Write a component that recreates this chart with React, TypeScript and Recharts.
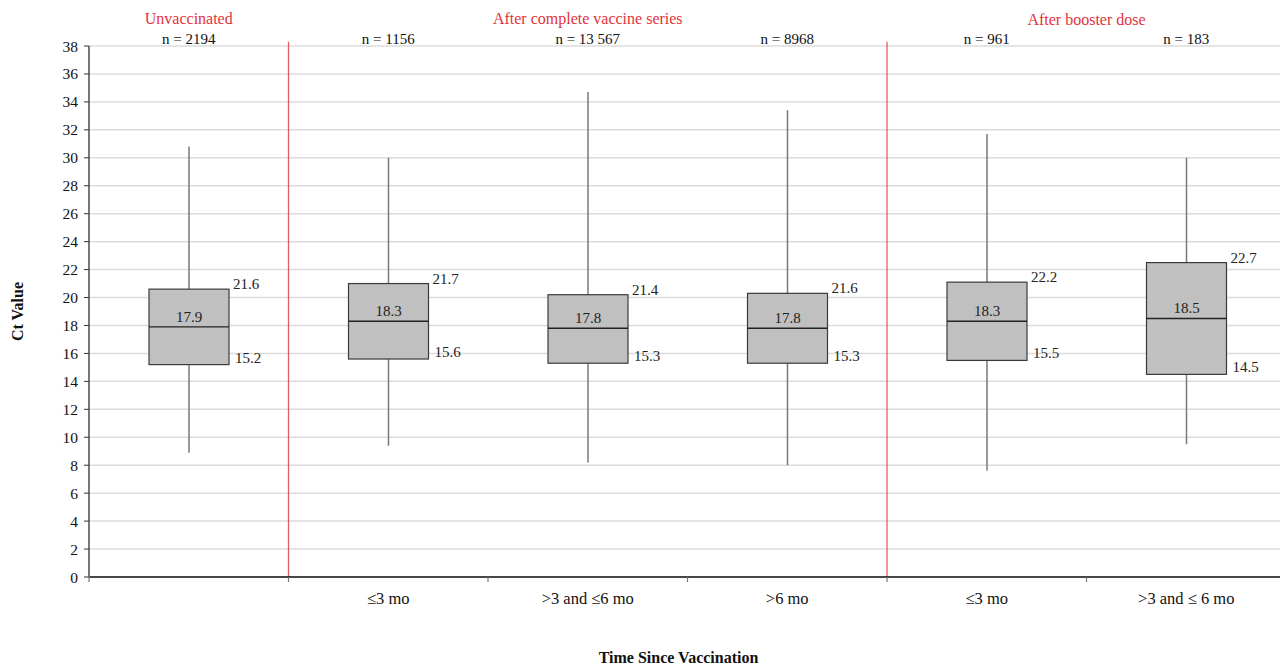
import { ComposedChart, Bar, XAxis, YAxis, CartesianGrid, ReferenceLine, Label } from "recharts";

const categories = ["", "≤3 mo", ">3 and ≤6 mo", ">6 mo", "≤3 mo", ">3 and ≤ 6 mo"];
const nLabels = ["n = 2194", "n = 1156", "n = 13 567", "n = 8968", "n = 961", "n = 183"];
const whiskerLow = [8.9, 9.4, 8.2, 8.0, 7.6, 9.5];
const whiskerHigh = [30.8, 30.0, 34.7, 33.4, 31.7, 30.0];
const boxLow = [15.2, 15.6, 15.3, 15.3, 15.5, 14.5];
const boxMid = [17.9, 18.3, 17.8, 17.8, 18.3, 18.5];
const boxHigh = [20.6, 21.0, 20.2, 20.3, 21.1, 22.5];
const q3Labels = ["21.6", "21.7", "21.4", "21.6", "22.2", "22.7"];

const groups = ["Unvaccinated", "After complete vaccine series", "After booster dose"];
const groupAt = [0.5, 2.5, 5];
const separators = [1, 4];

const yTicks = [0, 2, 4, 6, 8, 10, 12, 14, 16, 18, 20, 22, 24, 26, 28, 30, 32, 34, 36, 38];
const slotTicks = [0, 0.5, 1, 1.5, 2, 2.5, 3, 3.5, 4, 4.5, 5, 5.5];

const data = categories.map((c, i) => ({
  cat: c,
  pos: i + 0.5,
  n: nLabels[i],
  range: [whiskerLow[i], whiskerHigh[i]],
  lo: whiskerLow[i],
  hi: whiskerHigh[i],
  q1: boxLow[i],
  med: boxMid[i],
  q3: boxHigh[i],
  q3Label: q3Labels[i],
}));

const RED = "#e2333b";
const FONT = "'Liberation Serif', 'Times New Roman', serif";

function BoxShape(props: any) {
  const { x, y, width, height, payload } = props;
  const top = Math.min(y, y + height);
  const h = Math.abs(height);
  const { lo, hi, q1, med, q3, q3Label } = payload;
  const py = (v: number) => top + (h * (hi - v)) / (hi - lo);
  const cx = x + width / 2;
  const right = x + width;
  return (
    <g>
      <line x1={cx} x2={cx} y1={py(hi)} y2={py(lo)} stroke="#7a7a7a" strokeWidth={1.5} />
      <rect x={x} y={py(q3)} width={width} height={py(q1) - py(q3)} fill="#c0c0c0" stroke="#3a3a3a" strokeWidth={1.2} />
      <line x1={x} x2={right} y1={py(med)} y2={py(med)} stroke="#222" strokeWidth={1.4} />
      <text x={cx} y={py(med) - 5} textAnchor="middle" fontSize={15} fill="#222">{med.toFixed(1)}</text>
      <text x={right + 4} y={py(q3)} fontSize={15} fill="#222">{q3Label}</text>
      <text x={right + 6} y={py(q1) - 2} fontSize={15} fill="#222">{q1.toFixed(1)}</text>
    </g>
  );
}

function SlotTick(props: any) {
  const { x, y, payload } = props;
  const v = payload.value;
  if (Number.isInteger(v)) {
    return <line x1={x} x2={x} y1={y} y2={y + 5} stroke="#777" strokeWidth={1.2} />;
  }
  return (
    <text x={x} y={y + 27} textAnchor="middle" fontSize={16.5} fill="#111">
      {categories[Math.floor(v)]}
    </text>
  );
}

// the n-axis is stacked above the group axis, so both tick texts are swapped into place
function NTick(props: any) {
  const { x, y, payload } = props;
  return (
    <text x={x} y={y + 24} textAnchor="middle" fontSize={15} fill="#111">
      {payload.value}
    </text>
  );
}

function GroupTick(props: any) {
  const { x, y, payload } = props;
  const v = payload.value;
  return (
    <text x={x} y={y - (v === 5 ? 20 : 21)} textAnchor="middle" fontSize={16} fill={RED}>
      {groups[groupAt.indexOf(v)]}
    </text>
  );
}

export default function App() {
  return (
    <div style={{ position: "absolute", left: 0, top: 0, width: 1280, height: 665, overflow: "hidden", fontFamily: FONT, background: "#fff" }}>
      <ComposedChart width={1286} height={665} data={data} margin={{ top: 0, right: 0, bottom: 0, left: 0 }}>
        <CartesianGrid xAxisId="num" vertical={false} stroke="#dcdcdc" strokeWidth={1.5} />
        <XAxis
          xAxisId="grp"
          orientation="top"
          dataKey="pos"
          type="number"
          domain={[0, 6]}
          ticks={groupAt}
          allowDataOverflow
          height={24}
          axisLine={false}
          tickLine={false}
          tickSize={0}
          tickMargin={1}
          interval={0}
          tick={<GroupTick />}
        />
        <XAxis
          xAxisId="n"
          orientation="top"
          dataKey="n"
          type="category"
          height={22}
          axisLine={false}
          tickLine={false}
          tickSize={0}
          tickMargin={2}
          interval={0}
          tick={<NTick />}
        />
        <XAxis
          xAxisId="num"
          dataKey="pos"
          type="number"
          domain={[0, 6]}
          ticks={slotTicks}
          allowDataOverflow
          height={88}
          axisLine={{ stroke: "#111", strokeWidth: 1.5 }}
          tickLine={false}
          tickSize={0}
          tickMargin={0}
          interval={0}
          tick={<SlotTick />}
        >
          <Label
            content={({ viewBox }: any) => (
              <text x={viewBox.x + viewBox.width / 2 - 9} y={viewBox.y + viewBox.height - 2} textAnchor="middle" fontSize={16} fontWeight="bold" fill="#111">
                Time Since Vaccination
              </text>
            )}
          />
        </XAxis>
        <YAxis
          domain={[0, 38]}
          ticks={yTicks}
          width={89}
          interval={0}
          axisLine={{ stroke: "#777", strokeWidth: 2 }}
          tickLine={{ stroke: "#333" }}
          tickSize={5}
          tickMargin={6}
          tick={{ fontSize: 15.5, fill: "#111", fontFamily: FONT }}
        >
          <Label
            content={({ viewBox }: any) => {
              const cx = 23;
              const cy = viewBox.y + viewBox.height / 2;
              return (
                <text x={cx} y={cy} transform={`rotate(-90 ${cx} ${cy})`} textAnchor="middle" fontSize={16} fontWeight="bold" fill="#111">
                  Ct Value
                </text>
              );
            }}
          />
        </YAxis>
        {separators.map((s) => (
          <ReferenceLine
            key={s}
            xAxisId="num"
            segment={[{ x: s, y: 0 }, { x: s, y: 38.3 }]}
            ifOverflow="visible"
            stroke={RED}
            strokeOpacity={0.8}
            strokeWidth={1.3}
          />
        ))}
        <Bar xAxisId="n" dataKey="range" barSize={80} shape={<BoxShape />} isAnimationActive={false} />
      </ComposedChart>
    </div>
  );
}
